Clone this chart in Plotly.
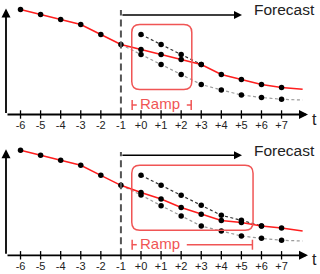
import plotly.graph_objects as go

# ---------------- data ----------------
t_obs = [-6, -5, -4, -3, -2, -1]
t_fore = [0, 1, 2, 3, 4, 5, 6, 7]
tick_vals = [-6, -5, -4, -3, -2, -1, 0, 1, 2, 3, 4, 5, 6, 7]
tick_text = ["-6", "-5", "-4", "-3", "-2", "-1", "+0", "+1", "+2", "+3", "+4", "+5", "+6", "+7"]
tail_t = 8.05

# top panel
top_obs = [10.5, 10.0, 9.5, 9.0, 8.0, 7.0]
top_actual = [6.5, 6.0, 5.5, 5.0, 4.0, 3.5, 3.0, 2.7]
top_actual_tail = 2.52
top_grey = [6.0, 5.0, 4.0, 3.0, 2.45, 1.95, 1.7, 1.52]
top_grey_tail = 1.45
top_black = [8.0, 7.0, 6.0, 5.0]
top_ramp_end = 2.53

# bottom panel
bot_obs = [10.5, 10.0, 9.5, 9.0, 8.0, 7.0]
bot_actual = [6.28, 5.63, 4.78, 4.11, 3.48, 3.27, 2.93, 2.73]
bot_actual_tail = 2.43
bot_grey = [6.03, 4.96, 3.93, 2.93, 2.43, 1.93, 1.7, 1.5]
bot_grey_tail = 1.43
bot_black = [8.0, 7.0, 6.0, 5.0, 4.0, 3.5, 2.93]
bot_ramp_end = 5.58

ramp_start = -0.46
box_lo, box_hi = 2.5, 9.0

# ---------------- styling ----------------
W, H = 320, 274
XPX = 20.08          # px per t unit
YPX = 10.0           # px per value unit
X0PX = 141.0         # pixel of t=0
x_range = [-X0PX / XPX, (W - X0PX) / XPX]
TOP_AXIS_PX = 114.5
BOT_AXIS_PX = 255.3
y_range_top = [-(H - TOP_AXIS_PX) / YPX, TOP_AXIS_PX / YPX]
y_range_bot = [-(H - BOT_AXIS_PX) / YPX, BOT_AXIS_PX / YPX]

RED = "#ff1e1e"
BOX_RED = "#f05555"
FONT = "Liberation Sans, Arial, sans-serif"

fig = go.Figure()
shapes = []
annotations = []


def rrect(x0, x1, y0, y1, rpx=8):
    rx = rpx / XPX
    ry = rpx / YPX
    return (f"M {x0+rx},{y1} L {x1-rx},{y1} Q {x1},{y1} {x1},{y1-ry} "
            f"L {x1},{y0+ry} Q {x1},{y0} {x1-rx},{y0} L {x0+rx},{y0} "
            f"Q {x0},{y0} {x0},{y0+ry} L {x0},{y1-ry} Q {x0},{y1} {x0+rx},{y1} Z")


def panel(yref, obs, actual, actual_tail, grey, grey_tail, black, ramp_end,
          ramp_y, ramp_text_y, fc_y, fc_text_y, vline_top):
    # grey dashed forecast (starts at last observed point)
    fig.add_trace(go.Scatter(
        x=[t_obs[-1]] + t_fore + [tail_t], y=[obs[-1]] + grey + [grey_tail],
        yaxis=yref, mode="lines", line=dict(color="#9a9a9a", width=1.2, dash="3px,2.5px"),
        hoverinfo="skip"))
    # black dashed forecast
    fig.add_trace(go.Scatter(
        x=t_fore[:len(black)], y=black, yaxis=yref, mode="lines",
        line=dict(color="#333333", width=1.2, dash="3px,2.5px"), hoverinfo="skip"))
    # red actual line
    fig.add_trace(go.Scatter(
        x=t_obs + t_fore + [tail_t], y=obs + actual + [actual_tail], yaxis=yref,
        mode="lines", line=dict(color=RED, width=1.5), hoverinfo="skip"))
    # markers
    mx = t_obs + t_fore + t_fore + t_fore[:len(black)]
    my = obs + actual + grey + black
    fig.add_trace(go.Scatter(
        x=mx, y=my, yaxis=yref, mode="markers",
        marker=dict(color="black", size=5.5), hoverinfo="skip"))
    # ticks
    fig.add_trace(go.Scatter(
        x=tick_vals, y=[0] * len(tick_vals), yaxis=yref, mode="markers",
        marker=dict(symbol="line-ns", size=6, line=dict(color="black", width=1.3)),
        hoverinfo="skip"))
    fig.add_trace(go.Scatter(
        x=tick_vals, y=[-1.2] * len(tick_vals), yaxis=yref, mode="text",
        text=tick_text, textfont=dict(family=FONT, size=11, color="#222"),
        hoverinfo="skip"))

    yr = "y" if yref == "y" else "y2"
    # axes arrows
    ax_left = (6 - X0PX) / XPX
    ax_right = (308 - X0PX) / XPX
    annotations.append(dict(x=ax_right, y=0, ax=ax_left, ay=0, xref="x", yref=yr,
                            axref="x", ayref=yr, text="", showarrow=True,
                            arrowhead=2, arrowwidth=1.8, arrowsize=1.0, arrowcolor="black"))
    annotations.append(dict(x=ax_left, y=10.6, ax=ax_left, ay=0, xref="x", yref=yr,
                            axref="x", ayref=yr, text="", showarrow=True,
                            arrowhead=2, arrowwidth=1.8, arrowsize=1.0, arrowcolor="black"))
    annotations.append(dict(x=(314 - X0PX) / XPX, y=-0.45, xref="x", yref=yr, text="t",
                            showarrow=False, font=dict(family=FONT, size=16, color="#222")))
    # forecast arrow
    annotations.append(dict(x=(242 - X0PX) / XPX, y=fc_y, ax=-1, ay=fc_y, xref="x", yref=yr,
                            axref="x", ayref=yr, text="", showarrow=True,
                            arrowhead=2, arrowwidth=1.6, arrowsize=1.0, arrowcolor="black"))
    annotations.append(dict(x=(252 - X0PX) / XPX, y=fc_text_y, xref="x", yref=yr,
                            text="Forecast", showarrow=False, xanchor="left",
                            font=dict(family=FONT, size=15.5, color="#222")))
    # vertical dashed line
    shapes.append(dict(type="line", xref="x", yref=yr, x0=-1, x1=-1, y0=0, y1=vline_top,
                       line=dict(color="#555", width=2, dash="7px,4px")))
    # rounded box
    shapes.append(dict(type="path", xref="x", yref=yr,
                       path=rrect(ramp_start, ramp_end, box_lo, box_hi),
                       line=dict(color=BOX_RED, width=1.5)))
    # ramp bracket
    tick_h = 0.5
    shapes.append(dict(type="line", xref="x", yref=yr, x0=ramp_start + 0.02, x1=ramp_start + 0.02,
                       y0=ramp_y - tick_h, y1=ramp_y + tick_h, line=dict(color=BOX_RED, width=1.5)))
    shapes.append(dict(type="line", xref="x", yref=yr, x0=ramp_start, x1=ramp_start + 0.25,
                       y0=ramp_y, y1=ramp_y, line=dict(color=BOX_RED, width=1.5)))
    shapes.append(dict(type="line", xref="x", yref=yr, x0=ramp_end - 0.03, x1=ramp_end - 0.03,
                       y0=ramp_y - tick_h, y1=ramp_y + tick_h, line=dict(color=BOX_RED, width=1.5)))
    shapes.append(dict(type="line", xref="x", yref=yr, x0=2.28,
                       x1=ramp_end - 0.03, y0=ramp_y, y1=ramp_y,
                       line=dict(color=BOX_RED, width=1.5)))
    annotations.append(dict(x=0.97, y=ramp_text_y, xref="x", yref=yr, text="Ramp",
                            showarrow=False, font=dict(family=FONT, size=15, color=BOX_RED)))


panel("y", top_obs, top_actual, top_actual_tail, top_grey, top_grey_tail, top_black,
      top_ramp_end, ramp_y=0.95, ramp_text_y=1.12, fc_y=9.95, fc_text_y=10.5,
      vline_top=10.45)
panel("y2", bot_obs, bot_actual, bot_actual_tail, bot_grey, bot_grey_tail, bot_black,
      bot_ramp_end, ramp_y=1.06, ramp_text_y=1.2, fc_y=10.0, fc_text_y=10.53,
      vline_top=10.33)

fig.update_layout(
    width=W, height=H, margin=dict(l=0, r=0, t=0, b=0),
    paper_bgcolor="white", plot_bgcolor="white", showlegend=False,
    xaxis=dict(range=x_range, visible=False, fixedrange=True),
    yaxis=dict(range=y_range_top, visible=False, domain=[0, 1]),
    yaxis2=dict(range=y_range_bot, visible=False, overlaying="y", domain=[0, 1]),
    shapes=shapes, annotations=annotations,
)

fig.write_html(
    "out.html",
    config={"displayModeBar": False, "staticPlot": True},
    post_script="document.body.style.margin='0';document.body.style.overflow='hidden';",
)
